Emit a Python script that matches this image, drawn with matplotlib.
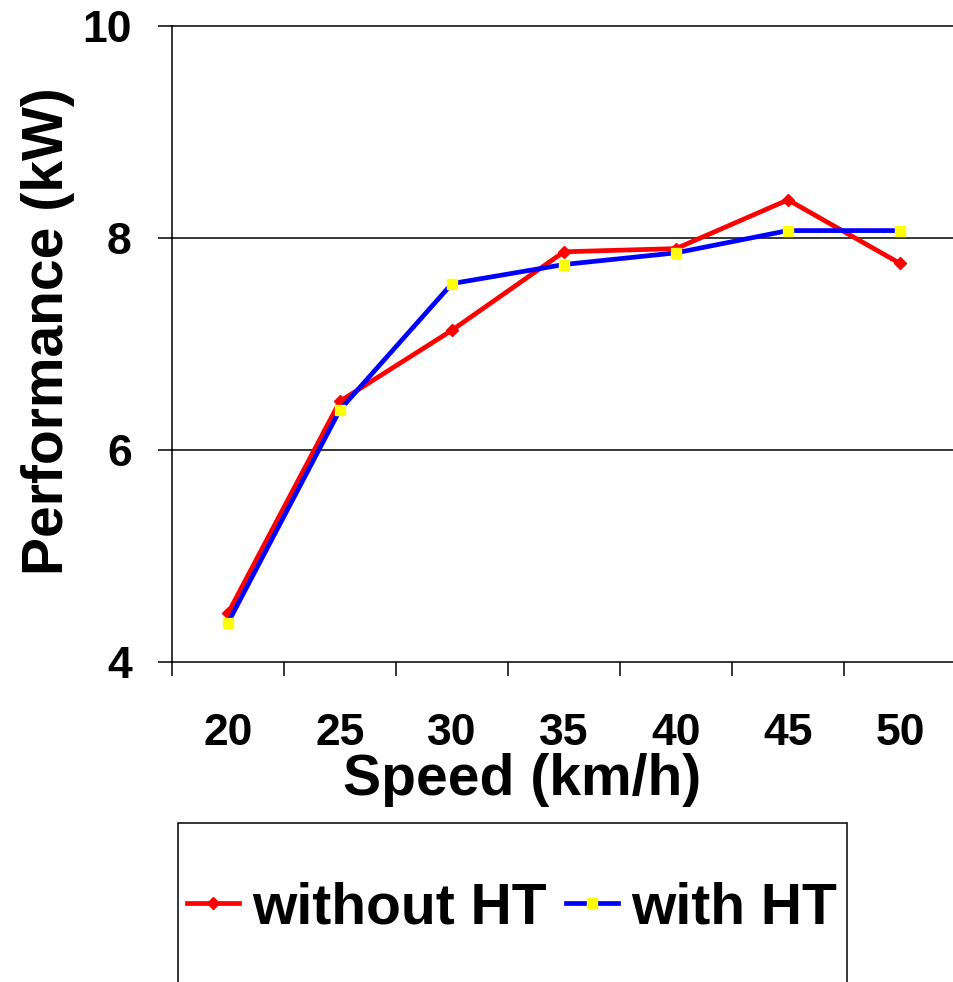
# ============ IMPORTS ============
import numpy as np
import matplotlib
matplotlib.use('Agg')
import matplotlib.pyplot as plt
from matplotlib.patches import Rectangle

plt.rcParams['font.family'] = ['Liberation Sans', 'DejaVu Sans']
plt.rcParams['font.weight'] = 'bold'

# ============ DATA ============
speeds = ['20', '25', '30', '35', '40', '45', '50']
without_ht = [4.46, 6.46, 7.13, 7.87, 7.90, 8.36, 7.76]
with_ht = [4.37, 6.38, 7.57, 7.75, 7.86, 8.07, 8.07]
y_ticks = [4, 6, 8, 10]

# ============ FIGURE ============
fig = plt.figure(figsize=(9.54, 9.82), dpi=100)
ax = fig.add_axes([172 / 954, 1 - 662 / 982, 784 / 954, 636 / 982])

x = np.arange(len(speeds))
ax.plot(x, without_ht, color='red', lw=3.4, marker='D', ms=6,
        mfc='red', mec='red', label='without HT', zorder=3)
ax.plot(x, with_ht, color='blue', lw=3.4, marker='s', ms=7,
        mfc='yellow', mec='yellow', label='with HT', zorder=4)

ax.set_xlim(-0.5, len(speeds) - 0.5)
ax.set_ylim(4, 10)

# grid lines
for yv in y_ticks[1:]:
    ax.axhline(yv, color='black', lw=1.1, zorder=1, clip_on=False)

# ticks
ax.set_yticks(y_ticks)
ax.set_yticklabels([str(v) for v in y_ticks], fontsize=32, fontweight='bold')
ax.tick_params(axis='y', direction='out', length=10, width=1.1, pad=19)
ax.set_xticks(x)
ax.set_xticklabels(speeds, fontsize=32, fontweight='bold')
ax.tick_params(axis='x', which='major', length=0, pad=37)
ax.set_xticks(np.arange(len(speeds)) - 0.5, minor=True)
ax.tick_params(axis='x', which='minor', direction='out', length=10, width=1.1)

for side in ['top', 'right']:
    ax.spines[side].set_visible(False)
for side in ['left', 'bottom']:
    ax.spines[side].set_linewidth(1.1)

ax.set_xlabel('Speed (km/h)', fontsize=41, fontweight='bold', va='center')
ax.xaxis.set_label_coords((522 - 172) / 784, (662 - 780) / 636)
ax.set_ylabel('Performance (kW)', fontsize=41, fontweight='bold', va='center')
ax.yaxis.set_label_coords((48 - 172) / 784, (662 - 331) / 636)

# ============ LEGEND ============
fig.patches.append(Rectangle((178 / 954, -0.05), 669 / 954, 1 - 823 / 982 + 0.05,
                             transform=fig.transFigure, fill=False,
                             edgecolor='black', lw=1.1))
handles, labels = ax.get_legend_handles_labels()
fig.legend(handles, labels, loc='center', bbox_to_anchor=(512 / 954, 1 - 908 / 982),
           ncol=2, frameon=False, handlelength=0.9, handletextpad=0.23,
           columnspacing=0.35,
           prop={'family': 'Liberation Sans', 'weight': 'bold', 'size': 41})

plt.savefig('out.png', dpi=100)
